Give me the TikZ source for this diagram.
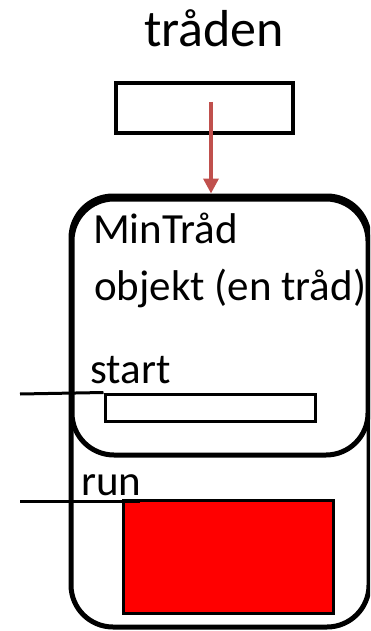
\documentclass[tikz,border=0pt]{standalone}
\usepackage{fontspec}
\setmainfont{Carlito}
\usetikzlibrary{arrows.meta}
\definecolor{arrowred}{HTML}{C0504D}
\begin{document}
\begin{tikzpicture}[x=1pt,y=-1pt,
  boxstyle/.style={draw=black,line width=5pt,rounded corners=42pt,inner sep=0pt,anchor=center},
  rectstyle/.style={draw=black,line width=3.5pt,inner sep=0pt,anchor=center},
  txt/.style={inner sep=0pt,anchor=base west,font=\fontsize{43}{50}\selectfont},
  wire/.style={draw=black,line width=3pt}]
\useasboundingbox (0,0) rectangle (370,631);
\clip (0,0) rectangle (370,631);
\node[inner sep=0pt,anchor=base,font=\fontsize{52}{60}\selectfont] (title) at (214,47) {tråden};
\node[rectstyle,minimum width=177pt,minimum height=50pt] (ref) at (204.5,108) {};
\node[boxstyle,minimum width=298pt,minimum height=431pt] (outer) at (220,411.5) {};
\node[boxstyle,minimum width=296pt,minimum height=256pt] (inner) at (220,327) {};
\node[txt] (name) at (93,243) {MinTråd};
\node[txt] (desc) at (94,300) {objekt (en tråd)};
\node[txt] (startlbl) at (90,383) {start};
\node[rectstyle,line width=3pt,minimum width=210pt,minimum height=27pt] (startbox) at (210,407.5) {};
\node[txt] (runlbl) at (81,495) {run};
\node[rectstyle,line width=3pt,fill=red,minimum width=210pt,minimum height=113pt] (runbox) at (228,556.5) {};
\coordinate (arrowstart) at (211,102);
\draw[arrowred,line width=3.5pt,-{Triangle[length=15pt,width=15pt]}] (arrowstart) -- (arrowstart |- outer.north);
\coordinate (startwire) at (20,394);
\draw[wire] (startwire) -- (startbox.north west);
\coordinate (runwire) at (20,501);
\coordinate (runwireend) at (140,501);
\draw[wire] (runwire) -- (runwireend);
\end{tikzpicture}
\end{document}
